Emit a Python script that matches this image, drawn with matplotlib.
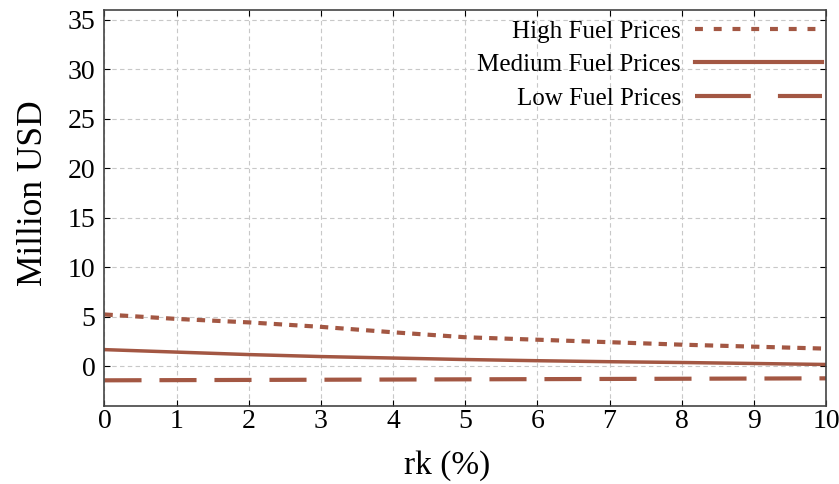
import matplotlib
matplotlib.use("Agg")
import matplotlib.pyplot as plt
from matplotlib.lines import Line2D

x = [0, 1, 2, 3, 4, 5, 6, 7, 8, 9, 10]
high = [5.25, 4.8, 4.45, 4.0, 3.45, 2.95, 2.7, 2.45, 2.2, 2.0, 1.8]
medium = [1.7, 1.45, 1.2, 1.0, 0.85, 0.7, 0.58, 0.48, 0.4, 0.3, 0.2]
low = [-1.4, -1.38, -1.36, -1.34, -1.32, -1.3, -1.28, -1.26, -1.24, -1.22, -1.2]
labels = ["High Fuel Prices", "Medium Fuel Prices", "Low Fuel Prices"]
xticks = list(range(0, 11))
yticks = [0, 5, 10, 15, 20, 25, 30, 35]

color = "#A35743"
serif = "Liberation Serif"
fig = plt.figure(figsize=(8.39, 4.84), dpi=100)
ax = fig.add_axes([0.1245, 0.161, 0.860, 0.8185])

ax.plot(x, high, color=color, lw=3, linestyle=(0, (2.0, 1.7)))
ax.plot(x, medium, color=color, lw=2.5, linestyle="-")
ax.plot(x, low, color=color, lw=3, linestyle=(0, (8.9, 4.3)))

ax.set_xlim(0, 10)
ax.set_ylim(-4, 36)
ax.set_xticks(xticks)
ax.set_yticks(yticks)
ax.grid(True, color="#c8c8c8", linestyle=(0, (4, 3)), linewidth=0.8)
ax.tick_params(direction="in", top=True, right=True, length=4, labelsize=20)
ax.tick_params(axis="y", pad=6.5)
ax.tick_params(axis="x", pad=2)
for lab in ax.get_xticklabels() + ax.get_yticklabels():
    lab.set_fontfamily(serif)
for s in ax.spines.values():
    s.set_color("#444444")
    s.set_linewidth(1.2)

ax.set_ylabel("Million USD", fontsize=25.5, fontfamily=serif)
ax.yaxis.set_label_coords(-0.075, 0.538)
ax.set_xlabel("rk (%)", fontsize=24, fontfamily=serif)
ax.xaxis.set_label_coords(0.475, -0.112)

handles = [
    Line2D([], [], color=color, lw=3, linestyle=(0, (1.9, 2.6))),
    Line2D([], [], color=color, lw=3, linestyle="-"),
    Line2D([], [], color=color, lw=3, linestyle=(0, (13.4, 6.5))),
]
leg = ax.legend(handles, labels, loc="upper right", bbox_to_anchor=(1.0, 0.984),
                frameon=False, markerfirst=False,
                handlelength=5.1, prop={"family": serif, "size": 18},
                borderaxespad=0.05, borderpad=0.1, labelspacing=0.44, handletextpad=0.55)

fig.savefig("out.png", dpi=100)
